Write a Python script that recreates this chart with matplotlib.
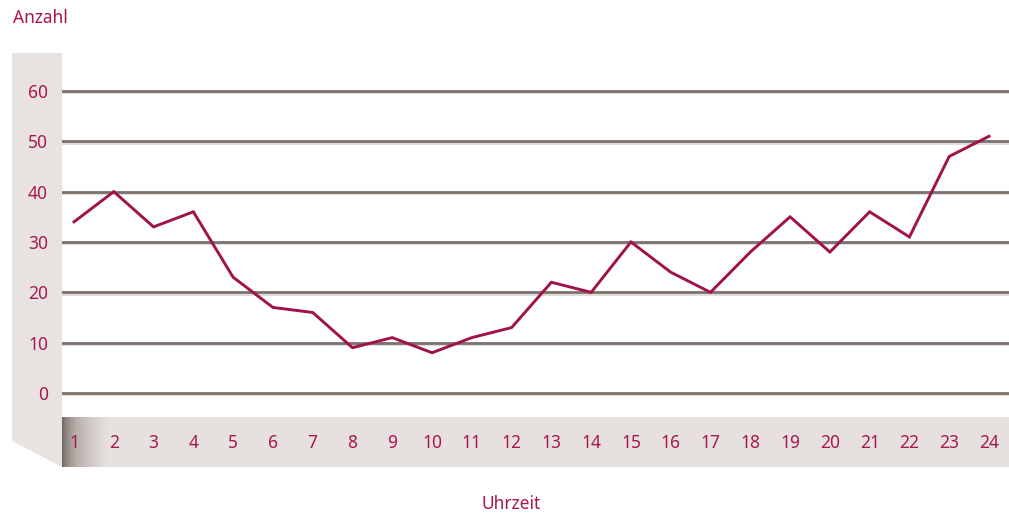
import numpy as np
import matplotlib
matplotlib.use("Agg")
import matplotlib.pyplot as plt
from matplotlib.patches import Polygon, Rectangle
from matplotlib.colors import LinearSegmentedColormap

# ---- data ----
hours = list(range(1, 25))
hour_labels = [str(h) for h in hours]
counts = [34, 40, 33, 36, 23, 17, 16, 9, 11, 8, 11, 13,
          22, 20, 30, 24, 20, 28, 35, 28, 36, 31, 47, 51]
y_ticks = [0, 10, 20, 30, 40, 50, 60]
y_title = "Anzahl"
x_title = "Uhrzeit"

# ---- styles ----
plt.rcParams['font.family'] = ['Noto Sans', 'DejaVu Sans']
RED = '#a0124a'
TXT = '#a8174f'
GRID = '#7a716c'
SHADOW = '#dcd6d3'
WALL = '#e8e3e1'
FLOOR = '#e6e1df'

W, H = 1009, 515
fig = plt.figure(figsize=(W / 100, H / 100), dpi=100)

# background decoration (pixel coordinates)
bg = fig.add_axes([0, 0, 1, 1])
bg.set_xlim(0, W)
bg.set_ylim(H, 0)
bg.axis('off')
bg.add_patch(Polygon([(12, 53), (62, 53), (62, 467), (12, 441)],
                     closed=True, facecolor=WALL, edgecolor='none', zorder=1))
bg.add_patch(Rectangle((62, 417), W - 62, 50, facecolor=FLOOR,
                       edgecolor='none', zorder=1))
grad = np.linspace(0, 1, 200) ** 0.6
cmap = LinearSegmentedColormap.from_list('g', ['#6a5e59', '#b8afab', FLOOR])
bg.imshow(grad[np.newaxis, :], extent=[62, 108, 467, 417], cmap=cmap,
          aspect='auto', interpolation='bilinear', vmin=0, vmax=1, zorder=2)
bg.set_xlim(0, W)
bg.set_ylim(H, 0)

# main axes
left_px, right_px, top_px, bot_px = 62, W, 53, 417
ax = fig.add_axes([left_px / W, (H - bot_px) / H,
                   (right_px - left_px) / W, (bot_px - top_px) / H])
ax.patch.set_visible(False)
ppu = (393 - 91) / 60.0
ax.set_ylim(-(bot_px - 393) / ppu, 60 + (91 - top_px) / ppu)
xsp = (989 - 74) / 23.0
ax.set_xlim(1 - (74 - left_px) / xsp, 24 + (right_px - 989) / xsp)

for v in y_ticks:
    ax.axhline(v - 0.45, color=SHADOW, lw=1.2, zorder=1)
    ax.axhline(v, color=GRID, lw=2.0, zorder=2)

ax.plot(hours, counts, color=RED, lw=2.1, zorder=3, solid_joinstyle='miter')

for s in ax.spines.values():
    s.set_visible(False)
ax.set_yticks(y_ticks)
ax.set_yticklabels([str(v) for v in y_ticks])
ax.set_xticks(hours)
ax.set_xticklabels(hour_labels)
ax.tick_params(axis='y', length=0, pad=10, labelsize=12.5, labelcolor=TXT)
ax.tick_params(axis='x', length=0, pad=12, labelsize=12.5, labelcolor=TXT)
for lbl in ax.get_yticklabels():
    lbl.set_y(lbl.get_position()[1])

fig.text(13 / W, 1 - 18 / H, y_title, color=TXT, fontsize=12.5,
         ha='left', va='center')
fig.text(511 / W, 1 - 504 / H, x_title, color=TXT, fontsize=12.5,
         ha='center', va='center')

fig.savefig('out.png', dpi=100)
